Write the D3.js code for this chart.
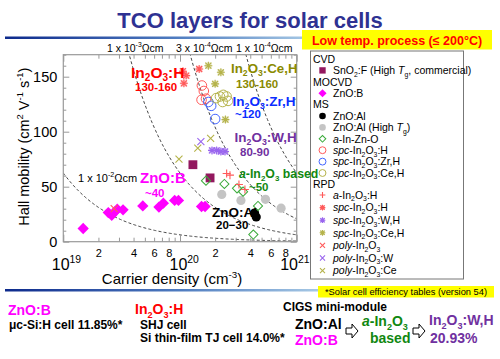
<!DOCTYPE html>
<html><head><meta charset="utf-8">
<script src="https://cdn.jsdelivr.net/npm/d3@7"></script>
<style>body{margin:0;background:#fff}svg{display:block}</style>
</head><body>
<svg id="c" width="500" height="359"></svg>
<script>
// ---------- data (carrier density cm^-3, Hall mobility cm2/Vs) ----------
const SnO2F   = [[1.29e20,70],[1.81e20,58]];
const ZnOB    = [[1.48e19,12],[2.43e19,26.5],[2.6e19,24],[2.75e19,27],[2.9e19,29.5],[3.25e19,29],[4.8e19,32.5],[6.6e19,31.5],[7.2e19,35],[9.0e19,37.5],[9.7e19,37.5],[1.53e20,32],[1.64e20,32]];
const ZnOAl   = [[4.35e20,26],[4.5e20,22.5]];
const ZnOAlHT = [[2.28e20,43],[3.33e20,37.5],[5.4e20,38.5],[7.35e20,30.5]];
const aIZO    = [[1.67e20,55.5],[2.4e20,52.5],[3.08e20,48.5],[3.47e20,45.5],[4.66e20,32.5],[4.25e20,6.5]];
const spcH_MS = [[1.54e20,142],[1.6e20,137],[1.53e20,129],[1.67e20,130]];
const spcZrH  = [[1.75e20,127],[1.85e20,123.5],[2.0e20,111.5]];
const spcCeH_MS = [[2.04e20,130.5],[2.2e20,132],[2.35e20,133.5],[2.51e20,132],[2.32e20,127],[2.58e20,128]];
const aIn2O3H = [[2.51e20,62],[2.68e20,60.5],[3.2e20,52],[3.6e20,47.5]];
const spcH_RPD = [[1.06e20,155],[1.13e20,151],[1.08e20,144],[1.46e20,157]];
const spcWH   = [[1.88e20,83],[2.06e20,83],[2.24e20,82],[2.43e20,82]];
const spcCeH_RPD = [[1.75e20,160],[2.24e20,154],[2.0e20,143.5],[2.45e20,111]];
const polyIn2O3 = [[2.73e19,30]];
const polyW   = [[1.51e20,91]];
const polyCe  = [[1.83e20,94],[1.42e20,85],[9.8e19,75]];
const rhoValues = [1e-2, 1e-3, 3e-4, 1e-4];
const rhoLabels = ["1 x 10^{-2}Ωcm","1 x 10^{-3}Ωcm","3 x 10^{-4}Ωcm","1 x 10^{-4}Ωcm"];
const yTicks = [0,10,20,30,40,50,60,70,80,90,100,110,120,130,140,150,160,170];
const yLabels = [0,50,100,150];
const xMajor = [1e19,1e20,1e21];
const xMinorLabels = [2,4,6,8];

const FONT = "'Liberation Sans', Arial, Helvetica, sans-serif";
const svg = d3.select("#c").attr("font-family", FONT);

// rich text helper: _{sub} ^{sup} *{italic}
function rich(sel, s, fs) {
  const parts = s.split(/(_\{[^}]*\}|\^\{[^}]*\}|\*\{[^}]*\})/g).filter(p => p.length);
  let shift = 0;
  parts.forEach(p => {
    let type = 'n', t = p;
    if (p.startsWith('_{')) { type = 'sub'; t = p.slice(2, -1); }
    else if (p.startsWith('^{')) { type = 'sup'; t = p.slice(2, -1); }
    else if (p.startsWith('*{')) { type = 'i'; t = p.slice(2, -1); }
    const ts = sel.append('tspan').text(t);
    const target = type === 'sub' ? fs * 0.25 : type === 'sup' ? -fs * 0.42 : 0;
    if (target - shift !== 0) ts.attr('dy', target - shift);
    shift = target;
    if (type === 'sub' || type === 'sup') ts.attr('font-size', fs * 0.65);
    if (type === 'i') ts.attr('font-style', 'italic');
  });
  return sel;
}
function txt(x, y, s, fs, opts = {}) {
  const t = svg.append('text').attr('x', x).attr('y', y).attr('font-size', fs)
    .attr('fill', opts.fill || '#000').attr('font-weight', opts.bold ? 'bold' : 'normal')
    .attr('text-anchor', opts.anchor || 'start');
  return rich(t, s, fs);
}

// ---------- title & decorations ----------
const defs = svg.append('defs');
const g1 = defs.append('linearGradient').attr('id', 'bl').attr('x1', '0').attr('x2', '1');
g1.append('stop').attr('offset', '0').attr('stop-color', '#0d2a8c');
g1.append('stop').attr('offset', '0.55').attr('stop-color', '#4f7cc0');
g1.append('stop').attr('offset', '1').attr('stop-color', '#a9cbe6');
svg.append('rect').attr('x', 5).attr('y', 36.5).attr('width', 310).attr('height', 2.5).attr('fill', 'url(#bl)');
svg.append('rect').attr('x', 5).attr('y', 289).attr('width', 318).attr('height', 2.5).attr('fill', 'url(#bl)');
txt(250, 28, "TCO layers for solar cells", 22, { bold: true, fill: '#2e3192', anchor: 'middle' });

svg.append('rect').attr('x', 302).attr('y', 30).attr('width', 190).attr('height', 19.5).attr('fill', '#ffff00');
txt(397, 44.5, "Low temp. process (≤ 200°C)", 12.5, { bold: true, fill: '#ff0000', anchor: 'middle' });

// ---------- scales ----------
const L = 63.3, R = 296.7, T = 54.7, B = 241.7;
const x = d3.scaleLog().domain([1e19, 1e21]).range([L, R]);
const y = d3.scaleLinear().domain([0, 170]).range([B, T]);

const plot = svg.append('g');
plot.append('clipPath').attr('id', 'clip').append('rect').attr('x', L).attr('y', T).attr('width', R - L).attr('height', B - T);

// iso-resistivity lines: mu = 1/(q n rho)
const q = 1.602e-19;
const nSamples = d3.range(0, 201).map(i => Math.pow(10, 19 + i / 100));
const line = d3.line().x(d => x(d[0])).y(d => y(d[1]));
plot.append('g').attr('clip-path', 'url(#clip)').selectAll('path').data(rhoValues).join('path')
  .attr('d', r => line(nSamples.map(n => [n, Math.min(400, 1 / (q * n * r))])))
  .attr('fill', 'none').attr('stroke', '#444').attr('stroke-width', 1).attr('stroke-dasharray', '3,2.2');

// axes frame & ticks
const gridCol = '#999';
const xTickVals = [];
[1e19, 1e20].forEach(d => { for (let k = 1; k < 10; k++) xTickVals.push(k * d); });
xTickVals.push(1e21);
const isMajorX = v => xMajor.some(m => Math.abs(v / m - 1) < 1e-6);
function styleAxis(g) { g.select('.domain').remove(); g.selectAll('line').attr('stroke', gridCol); }

const axB = plot.append('g').attr('transform', `translate(0,${B})`)
  .call(d3.axisBottom(x).tickValues(xTickVals).tickSize(-4).tickPadding(6)
    .tickFormat(v => { const k = Math.round(v / Math.pow(10, Math.floor(Math.log10(v) + 1e-9))); return xMinorLabels.includes(k) ? k : ''; }));
styleAxis(axB);
axB.selectAll('line').attr('y2', v => isMajorX(v) ? -7 : -4);
axB.selectAll('text').attr('font-size', 11).attr('font-family', FONT).attr('fill', '#000').attr('y', 8);

const axT = plot.append('g').attr('transform', `translate(0,${T})`)
  .call(d3.axisTop(x).tickValues(xTickVals).tickSize(-4).tickFormat(''));
styleAxis(axT);
axT.selectAll('line').attr('y2', v => isMajorX(v) ? 7 : 4);

const axL = plot.append('g').attr('transform', `translate(${L},0)`)
  .call(d3.axisLeft(y).tickValues(yTicks).tickSize(-3).tickPadding(6).tickFormat(v => yLabels.includes(v) ? v : ''));
styleAxis(axL);
axL.selectAll('line').attr('x2', v => yLabels.includes(v) ? 6 : 3);
axL.selectAll('text').attr('font-size', 14.5).attr('font-family', FONT).attr('fill', '#000').attr('dy', '0.36em');

const axR = plot.append('g').attr('transform', `translate(${R},0)`)
  .call(d3.axisRight(y).tickValues(yTicks).tickSize(-3).tickFormat(''));
styleAxis(axR);
axR.selectAll('line').attr('x2', v => yLabels.includes(v) ? -6 : -3);

plot.append('rect').attr('x', L).attr('y', T).attr('width', R - L).attr('height', B - T)
  .attr('fill', 'none').attr('stroke', gridCol).attr('stroke-width', 1.2);

// decade labels
const decadeOffsets = [-11.5, -10.5, -16.5];
xMajor.forEach((v, i) => {
  const e = Math.round(Math.log10(v));
  txt(x(v) + decadeOffsets[i], 270, "10^{" + e + "}", 16);
});

// axis titles
const yl = svg.append('text').attr('transform', `translate(29,${B - 95}) rotate(-90)`)
  .attr('text-anchor', 'middle').attr('font-size', 14.5);
rich(yl, "Hall mobility (cm^{2} V^{-1} s^{-1})", 14.5);
txt(172, 284, "Carrier density (cm^{-3})", 15, { anchor: 'middle' });

// resistivity labels
txt(107, 51.5, rhoLabels[1], 10.5);
txt(176, 51.5, rhoLabels[2], 10.5);
txt(236, 51.5, rhoLabels[3], 10.5);
txt(78, 182, rhoLabels[0], 11);

// ---------- markers ----------
const C = {
  sno2: '#93185f', znob: '#ff00ff', znoal: '#000', grey: '#c4c4c4', green: '#3aaa3a',
  red: '#ff5a5a', blue: '#4466ff', olive: '#b5b34a', purple: '#9a66ee'
};
const sym = (type, size) => d3.symbol().type(type).size(size)();
const ptsG = plot.append('g');
function draw(data, kind, color) {
  const g = ptsG.append('g');
  const sel = g.selectAll('g').data(data).join('g').attr('transform', d => `translate(${x(d[0])},${y(d[1])})`);
  drawMarker(sel, kind, color);
}
function drawMarker(sel, kind, color, scale = 1) {
  const s = scale;
  if (kind === 'square') sel.append('path').attr('d', sym(d3.symbolSquare, 78 * s * s)).attr('fill', color);
  if (kind === 'diamond') sel.append('path').attr('d', sym(d3.symbolSquare, 64 * s * s)).attr('transform', 'rotate(45)').attr('fill', color);
  if (kind === 'hdiamond') sel.append('path').attr('d', sym(d3.symbolSquare, 42 * s * s)).attr('transform', 'rotate(45)').attr('fill', 'none').attr('stroke', color).attr('stroke-width', 1);
  if (kind === 'dot') sel.append('circle').attr('r', 4.6 * s).attr('fill', color);
  if (kind === 'ring') sel.append('circle').attr('r', 4.8 * s).attr('fill', 'none').attr('stroke', color).attr('stroke-width', 1);
  if (kind === 'plus') sel.append('path').attr('d', `M${-4 * s},0H${4 * s}M0,${-4 * s}V${4 * s}`).attr('stroke', color).attr('stroke-width', 1.1);
  if (kind === 'ast') {
    sel.append('rect').attr('x', -3.2 * s).attr('y', -3.2 * s).attr('width', 6.4 * s).attr('height', 6.4 * s).attr('fill', color).attr('opacity', 0.35);
    sel.append('path').attr('d', `M${-4 * s},0H${4 * s}M0,${-4 * s}V${4 * s}M${-3 * s},${-3 * s}L${3 * s},${3 * s}M${-3 * s},${3 * s}L${3 * s},${-3 * s}`).attr('stroke', color).attr('stroke-width', 1.1);
  }
  if (kind === 'cross') sel.append('path').attr('d', `M${-3.5 * s},${-3.5 * s}L${3.5 * s},${3.5 * s}M${-3.5 * s},${3.5 * s}L${3.5 * s},${-3.5 * s}`).attr('stroke', color).attr('stroke-width', 1.1);
}
draw(ZnOAlHT, 'dot', C.grey);
draw(ZnOB, 'diamond', C.znob);
draw(SnO2F, 'square', C.sno2);
draw(ZnOAl, 'dot', C.znoal);
draw(aIZO, 'hdiamond', C.green);
draw(spcH_MS, 'ring', C.red);
draw(spcZrH, 'ring', C.blue);
draw(spcCeH_MS, 'ring', C.olive);
draw(aIn2O3H, 'plus', C.red);
draw(spcH_RPD, 'ast', C.red);
draw(spcWH, 'ast', C.purple);
draw(spcCeH_RPD, 'ast', C.olive);
draw(polyIn2O3, 'cross', C.red);
draw(polyW, 'cross', C.purple);
draw(polyCe, 'cross', C.olive);

// ---------- in-plot labels ----------
const RED = '#ff0000', OLIVE = '#8a8a00', BLUE = '#0a2dff', PURPLE = '#7030a0', GREEN = '#118811', MAG = '#ff00ff';
txt(131, 77.5, "In_{2}O_{3}:H", 15.5, { bold: true, fill: RED });
txt(135, 91, "130-160", 11.5, { bold: true, fill: RED });
txt(231, 73, "In_{2}O_{3}:Ce,H", 13.3, { bold: true, fill: OLIVE });
txt(236, 88, "130-160", 11.5, { bold: true, fill: OLIVE });
txt(232.5, 105.5, "In_{2}O_{3}:Zr,H", 13.5, { bold: true, fill: BLUE });
txt(235, 118, "~120", 11.5, { bold: true, fill: BLUE });
txt(234.5, 142, "In_{2}O_{3}:W,H", 13.5, { bold: true, fill: PURPLE });
txt(240, 156, "80-90", 11.5, { bold: true, fill: PURPLE });
txt(249, 191, "~50", 11.5, { bold: true, fill: GREEN });
txt(140, 183, "ZnO:B", 15, { bold: true, fill: MAG });
txt(145, 197, "~40", 11.5, { bold: true, fill: MAG });
txt(212, 216.5, "ZnO:Al", 13.5, { bold: true, fill: '#000' });
txt(216, 229, "20−30", 11.5, { bold: true, fill: '#000' });

// ---------- legend ----------
const LX = 310.5, LY = 51;
svg.append('rect').attr('x', LX).attr('y', LY).attr('width', 153).attr('height', 228).attr('fill', '#fff').attr('stroke', '#777').attr('stroke-width', 1);
const legendItems = [
  ['h', 'CVD'], ['square', 'SnO_{2}:F (High *{T}_{g}, commercial)', C.sno2],
  ['h', 'MOCVD'], ['diamond', 'ZnO:B', C.znob],
  ['h', 'MS'], ['dot', 'ZnO:Al', C.znoal], ['dot', 'ZnO:Al (High *{T}_{g})', C.grey],
  ['hdiamond', '*{a}-In-Zn-O', C.green], ['ring', '*{spc}-In_{2}O_{3}:H', C.red],
  ['ring', '*{spc}-In_{2}O_{3}:Zr,H', C.blue], ['ring', '*{spc}-In_{2}O_{3}:Ce,H', C.olive],
  ['h', 'RPD'], ['plus', '*{a}-In_{2}O_{3}:H', C.red], ['ast', '*{spc}-In_{2}O_{3}:H', C.red],
  ['ast', '*{spc}-In_{2}O_{3}:W,H', C.purple], ['ast', '*{spc}-In_{2}O_{3}:Ce,H', C.olive],
  ['cross', '*{poly}-In_{2}O_{3}', C.red], ['cross', '*{poly}-In_{2}O_{3}:W', C.purple], ['cross', '*{poly}-In_{2}O_{3}:Ce', C.olive]
];
legendItems.forEach((it, i) => {
  const cy = i <= 11 ? 59 + i * 11.4 : 195 + (i - 12) * 12.6;
  if (it[0] === 'h') { txt(313, cy + 3.8, it[1], 10.5); return; }
  const g = svg.append('g').attr('transform', `translate(322.5,${cy})`);
  drawMarker(g, it[0], it[2], 0.72);
  txt(333, cy + 3.8, it[1], 10.5);
});

// label that runs over the legend edge (drawn on top, as in the reference)
txt(239, 178, "*{a}-In_{2}O_{3} based", 12.3, { bold: true, fill: GREEN });

// ---------- bottom notes ----------
svg.append('rect').attr('x', 318).attr('y', 286).attr('width', 176).attr('height', 11.5).attr('fill', '#ffff00');
txt(406, 295, "*Solar cell efficiency tables (version 54)", 9.3, { anchor: 'middle' });

txt(8, 315, "ZnO:B", 14, { bold: true, fill: MAG });
txt(9, 329, "μc-Si:H cell 11.85%*", 12, { bold: true });
txt(135, 314, "In_{2}O_{3}:H", 14, { bold: true, fill: RED });
txt(140, 329, "SHJ cell", 12, { bold: true });
txt(140, 341.5, "Si thin-film TJ cell 14.0%*", 12, { bold: true });
txt(283, 311, "CIGS mini-module", 12, { bold: true });
txt(295, 329, "ZnO:Al", 14, { bold: true });
txt(295, 345, "ZnO:B", 14, { bold: true, fill: MAG });
txt(362, 326, "*{a}-In_{2}O_{3}", 14, { bold: true, fill: GREEN });
txt(370, 343, "based", 14, { bold: true, fill: GREEN });
txt(429, 325, "In_{2}O_{3}:W,H", 14, { bold: true, fill: PURPLE });
txt(430, 343, "20.93%", 14, { bold: true, fill: PURPLE });
function arrow(x0, yc) {
  const p = `M${x0},${yc - 3}H${x0 + 6}V${yc - 7}L${x0 + 12},${yc}L${x0 + 6},${yc + 7}V${yc + 3}H${x0}Z`;
  svg.append('path').attr('d', p).attr('fill', '#fff').attr('stroke', '#000').attr('stroke-width', 1);
}
arrow(346, 331);
arrow(413, 331);
</script>
</body></html>
